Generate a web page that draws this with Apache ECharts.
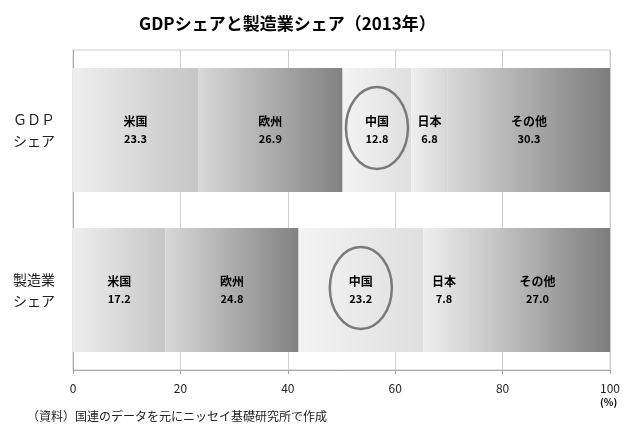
<!DOCTYPE html>
<html><head><meta charset="utf-8">
<script src="https://cdn.jsdelivr.net/npm/echarts@6/dist/echarts.min.js"></script>
<style>html,body{margin:0;padding:0;background:#fff}#c{width:623px;height:441px}</style>
</head><body><div id="c"></div>
<script>
const categories = ['ＧＤＰ\nシェア', '製造業\nシェア'];
const regions = ['米国', '欧州', '中国', '日本', 'その他'];
const usa = [23.3, 17.2];
const europe = [26.9, 24.8];
const china = [12.8, 23.2];
const japan = [6.8, 7.8];
const others = [30.3, 27.0];
const xTicks = [0, 20, 40, 60, 80, 100];
const highlight = '中国';

const seriesValues = [usa, europe, china, japan, others];
const gradients = [
  ['#eeeeee', '#c6c6c6'],
  ['#d8d8d8', '#828282'],
  ['#f4f4f4', '#dfdfdf'],
  ['#efefef', '#d6d6d6'],
  ['#d8d8d8', '#7d7d7d']
];
const FONT = '"Noto Sans CJK JP", sans-serif';

const barSeries = regions.map((name, i) => ({
  name: name,
  type: 'bar',
  stack: 'total',
  barCategoryGap: '22.5%',
  data: seriesValues[i],
  itemStyle: {
    color: new echarts.graphic.LinearGradient(0, 0, 1, 0, [
      {offset: 0, color: gradients[i][0]},
      {offset: 1, color: gradients[i][1]}
    ])
  },
  label: {
    show: true,
    position: 'inside',
    formatter: p => '{n|' + p.seriesName + '}\n{v|' + p.value.toFixed(1) + '}',
    rich: {
      n: {fontFamily: FONT, fontWeight: 'bold', fontSize: 12, color: '#000', lineHeight: 18},
      v: {fontFamily: FONT, fontWeight: 'bold', fontSize: 11, color: '#000', lineHeight: 18}
    }
  }
}));

// ellipse annotation around the highlighted region, placed from the data
const hiIdx = regions.indexOf(highlight);
const ellipseData = categories.map((c, ci) => {
  let start = 0;
  for (let k = 0; k < hiIdx; k++) start += seriesValues[k][ci];
  return [start, start + seriesValues[hiIdx][ci], ci];
});

const ellipseSeries = {
  type: 'custom',
  silent: true,
  z: 10,
  data: ellipseData,
  encode: {x: [0, 1], y: 2},
  renderItem: function (params, api) {
    const a = api.coord([api.value(0), api.value(2)]);
    const b = api.coord([api.value(1), api.value(2)]);
    return {
      type: 'ellipse',
      shape: {cx: (a[0] + b[0]) / 2, cy: a[1] - 2, rx: 31, ry: 41},
      style: {fill: 'none', stroke: '#7a7a7a', lineWidth: 2.5}
    };
  }
};

const chart = echarts.init(document.getElementById('c'), null, {renderer: 'canvas'});
chart.setOption({
  animation: false,
  backgroundColor: '#fff',
  title: {
    text: 'GDPシェアと製造業シェア（2013年）',
    left: 134, top: 10,
    textStyle: {fontFamily: FONT, fontWeight: 'bold', fontSize: 17, color: '#000'}
  },
  grid: {left: 73, right: 9, top: 50, bottom: 71, show: true, borderColor: '#cfcfcf', borderWidth: 1},
  xAxis: {
    type: 'value', min: xTicks[0], max: xTicks[xTicks.length - 1], interval: 20,
    axisLine: {show: true, lineStyle: {color: '#a6a6a6'}},
    axisTick: {show: true, length: 4, lineStyle: {color: '#a6a6a6'}},
    axisLabel: {margin: 12, fontFamily: FONT, fontSize: 12, color: '#222'},
    splitLine: {show: true, lineStyle: {color: '#cfcfcf'}}
  },
  yAxis: {
    type: 'category', data: categories, inverse: true,
    axisLine: {show: true, lineStyle: {color: '#a6a6a6'}},
    axisTick: {show: false},
    axisLabel: {margin: 18, fontFamily: FONT, fontSize: 14, color: '#222', lineHeight: 21}
  },
  graphic: [
    {type: 'text', left: 600, top: 397, style: {text: '(%)', fontFamily: FONT, fontWeight: 'bold', fontSize: 10, fill: '#000'}},
    {type: 'text', left: 27, top: 410, style: {text: '（資料）国連のデータを元にニッセイ基礎研究所で作成', fontFamily: FONT, fontSize: 12, fill: '#222'}}
  ],
  series: barSeries.concat([ellipseSeries])
});
</script></body></html>
